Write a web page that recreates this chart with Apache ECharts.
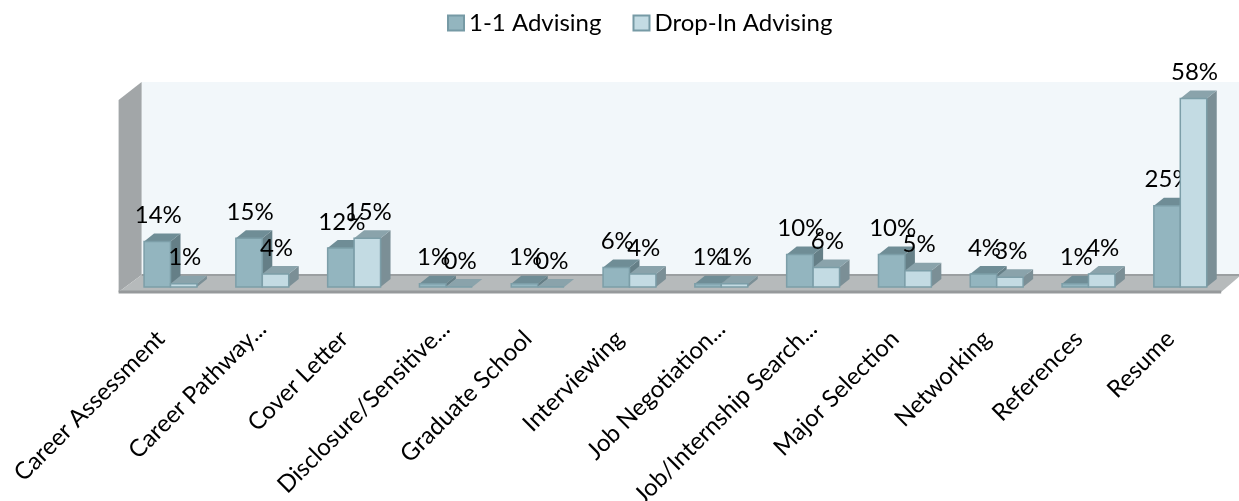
<!DOCTYPE html>
<html lang="en">
  <head>
    <meta charset="UTF-8" />
    <title>Advising topics</title>
    <style>
      html, body { margin: 0; padding: 0; background: #fff; }
      #chart { width: 1239px; height: 501px; }
    </style>
  </head>
  <body>
    <div id="chart"></div>
    <script src="https://cdn.jsdelivr.net/npm/echarts@6/dist/echarts.min.js"></script>
    <script>
      const categories = [
        "Career Assessment", "Career Pathway...", "Cover Letter", "Disclosure/Sensitive...",
        "Graduate School", "Interviewing", "Job Negotiation...", "Job/Internship Search...",
        "Major Selection", "Networking", "References", "Resume"
      ];
      const oneOnOne = [14, 15, 12, 1, 1, 6, 1, 10, 10, 4, 1, 25];
      const dropIn = [1, 4, 15, 0, 0, 4, 1, 6, 5, 3, 4, 58];

      const fontName = "Lato";
      const depthX = 10;
      const depthY = 8;

      // one 3d looking bar: front face, top face, side face and its % label
      function bar3d(side, colors) {
        return function (params, api) {
          const base = api.coord([api.value(0), 0]);
          const top = api.coord([api.value(0), api.value(1)]);
          const w = api.size([1, 0])[0] * 0.288;
          const x0 = side < 0 ? base[0] - w : base[0];
          const x1 = x0 + w;
          const line = { stroke: colors.edge, lineWidth: 1.5 };
          return {
            type: "group",
            children: [
              {
                type: "polygon",
                shape: { points: [[x1, top[1]], [x1 + depthX, top[1] - depthY], [x1 + depthX, base[1] - depthY], [x1, base[1]]] },
                style: { fill: colors.side }
              },
              {
                type: "polygon",
                shape: { points: [[x0, top[1]], [x0 + depthX, top[1] - depthY], [x1 + depthX, top[1] - depthY], [x1, top[1]]] },
                style: { fill: colors.top }
              },
              {
                type: "rect",
                shape: { x: x0, y: top[1], width: w, height: base[1] - top[1] },
                style: Object.assign({ fill: colors.front }, line)
              },
              {
                type: "text",
                z2: 100,
                style: {
                  x: (x0 + x1) / 2 + 1,
                  y: top[1] - 26,
                  text: api.value(1) + "%",
                  fill: "#000",
                  font: "24px " + fontName,
                  align: "center",
                  verticalAlign: "middle"
                }
              }
            ]
          };
        };
      }

      // wall and floor, placed relative to the grid
      function backdrop(params) {
        const g = params.coordSys;
        const l = g.x, r = g.x + g.width, t = g.y, b = g.y + g.height;
        const poly = (points, fill) => ({ type: "polygon", shape: { points: points }, style: { fill: fill } });
        return {
          type: "group",
          children: [
            { type: "rect", shape: { x: l + 17, y: t - 10, width: r - l, height: b - t - 2 }, style: { fill: "#f2f7fa" } },
            poly([[l - 6, t + 8], [l + 17, t - 10], [l + 17, b - 12], [l - 6, b + 5]], "#a2a6a8"),
            poly([[l - 6, b + 5], [l + 17, b - 12], [r + 15, b - 12], [r - 5, b + 5]], "#b6babb"),
            { type: "line", shape: { x1: l + 17, y1: b - 12, x2: r + 15, y2: b - 12 }, style: { stroke: "#9b9fa1", lineWidth: 2 } },
            { type: "line", shape: { x1: l - 6, y1: b + 5, x2: r - 5, y2: b + 5 }, style: { stroke: "#96999b", lineWidth: 3 } }
          ]
        };
      }

      const myChart = echarts.init(document.querySelector("#chart"), null, { renderer: "canvas" });
      myChart.setOption({
        animation: false,
        textStyle: { fontFamily: fontName },
        legend: {
          data: ["1-1 Advising", "Drop-In Advising"],
          left: 442,
          top: 6,
          itemWidth: 16,
          itemHeight: 15,
          itemGap: 31,
          icon: "rect",
          textStyle: { fontSize: 24, color: "#000", fontFamily: fontName }
        },
        grid: { left: 124.6, right: 12.8, top: 92, bottom: 214, outerBoundsMode: "none" },
        xAxis: {
          type: "category",
          // the cut off labels sit further up their diagonal than the others
          data: categories.map((c) => ({
            value: c,
            textStyle: { padding: c.endsWith("...") ? [0, 0, 14, 0] : [0, 14, 0, 0] }
          })),
          axisLine: { show: false },
          axisTick: { show: false },
          axisLabel: { interval: 0, rotate: 45, fontSize: 24, color: "#000", margin: 38, fontFamily: fontName, hideOverlap: false }
        },
        yAxis: { type: "value", min: 0, max: 60, show: false, splitLine: { show: false } },
        series: [
          {
            name: "backdrop",
            type: "custom",
            silent: true,
            z: 1,
            clip: false,
            data: [[0, 0]],
            encode: { x: 0, y: 1 },
            renderItem: backdrop
          },
          {
            name: "1-1 Advising",
            type: "custom",
            z: 2,
            clip: false,
            itemStyle: { color: "#93b5bf", borderColor: "#769aa5", borderWidth: 2 },
            data: oneOnOne.map((v, i) => [i, v]),
            encode: { x: 0, y: 1 },
            renderItem: bar3d(-1, { front: "#93b5bf", edge: "#7c9ea8", top: "#6f8d96", side: "#657f87" })
          },
          {
            name: "Drop-In Advising",
            type: "custom",
            z: 3,
            clip: false,
            itemStyle: { color: "#c3dbe3", borderColor: "#769aa5", borderWidth: 2 },
            data: dropIn.map((v, i) => [i, v]),
            encode: { x: 0, y: 1 },
            renderItem: bar3d(1, { front: "#c3dbe3", edge: "#7c9ea8", top: "#8aa3ab", side: "#7b8f96" })
          }
        ]
      });
    </script>
  </body>
</html>
